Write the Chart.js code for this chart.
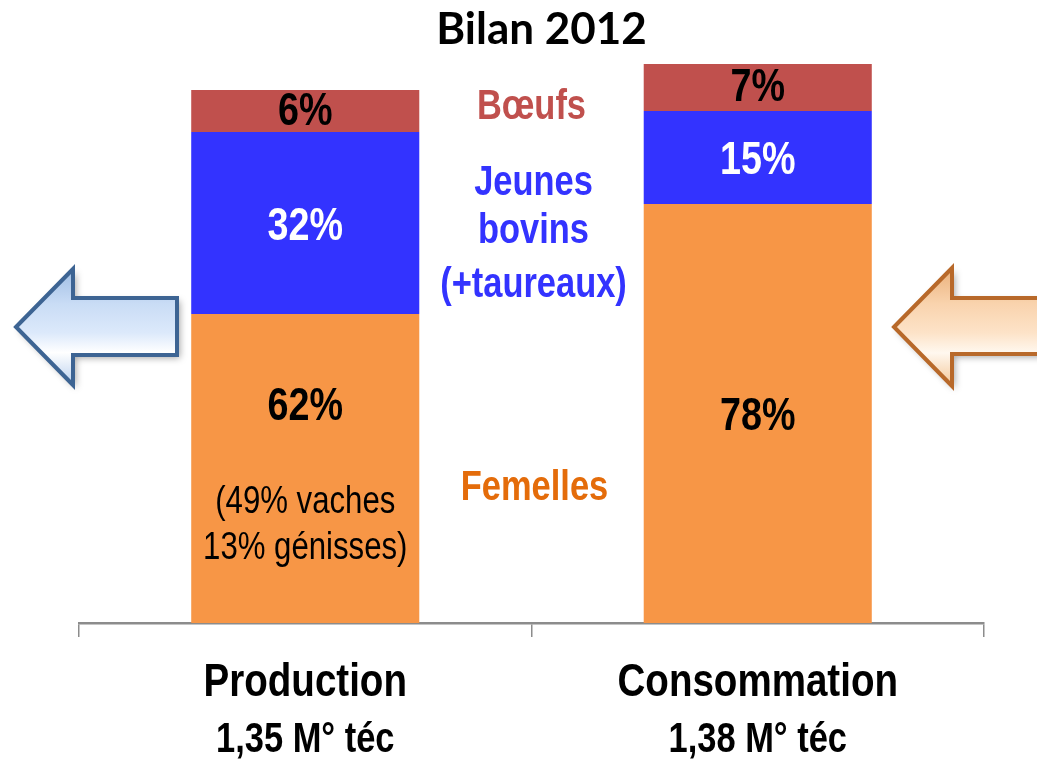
<!DOCTYPE html>
<html>
<head>
<meta charset="utf-8">
<script src="https://cdn.jsdelivr.net/npm/chart.js@4"></script>
<style>
  html, body { margin: 0; padding: 0; background: #ffffff; }
  #wrap { width: 1037px; height: 760px; position: relative; }
</style>
</head>
<body>
<div id="wrap"><canvas id="c"></canvas></div>
<script>
// ---- data (segment heights, arbitrary units) ----
const categories = ['Production', 'Consommation'];
const categoryVolumes = ['1,35 M° téc', '1,38 M° téc'];
const seriesNames = ['Femelles', 'Jeunes bovins (+taureaux)', 'Bœufs'];
const femelles = [309, 419];
const jeunesBovins = [182, 93];
const boeufs = [42, 47];
const femellesPct = ['62%', '78%'];
const jeunesBovinsPct = ['32%', '15%'];
const boeufsPct = ['6%', '7%'];
const femellesDetail = [['(49% vaches', '13% génisses)'], []];
const chartTitle = 'Bilan 2012';

const COL_F = '#f79646', COL_J = '#3333ff', COL_B = '#c0504d';

function narrowText(ctx, text, x, y, size, weight, color, sx) {
  ctx.save();
  ctx.font = weight + ' ' + size + 'px "Liberation Sans", Arial, sans-serif';
  ctx.fillStyle = color;
  ctx.textAlign = 'center';
  ctx.textBaseline = 'middle';
  ctx.translate(x, y);
  ctx.scale(sx || 0.82, 1);
  ctx.fillText(text, 0, 0);
  ctx.restore();
}

function arrow(ctx, pts, stroke, stops) {
  ctx.save();
  ctx.beginPath();
  pts.forEach((p, i) => i ? ctx.lineTo(p[0], p[1]) : ctx.moveTo(p[0], p[1]));
  ctx.closePath();
  const ys = pts.map(p => p[1]);
  const g = ctx.createLinearGradient(0, Math.min(...ys), 0, Math.max(...ys));
  stops.forEach(s => g.addColorStop(s[0], s[1]));
  ctx.shadowColor = 'rgba(0,0,0,0.35)';
  ctx.shadowBlur = 7;
  ctx.shadowOffsetX = 3;
  ctx.shadowOffsetY = 3;
  ctx.fillStyle = g;
  ctx.fill();
  ctx.shadowColor = 'transparent';
  ctx.lineWidth = 4;
  ctx.lineJoin = 'miter';
  ctx.strokeStyle = stroke;
  ctx.stroke();
  ctx.restore();
}

const decoPlugin = {
  id: 'deco',
  afterDraw(chart) {
    const ctx = chart.ctx;
    const area = chart.chartArea;
    const xs = chart.scales.x;
    const cx = (area.left + area.right) / 2;

    // title
    ctx.save();
    ctx.font = 'bold 44px Lato, "Liberation Sans", sans-serif';
    ctx.fillStyle = '#000';
    ctx.textAlign = 'center';
    ctx.textBaseline = 'middle';
    ctx.fillText(chartTitle, cx + 10, 30);
    ctx.restore();

    // segment labels
    const metaF = chart.getDatasetMeta(0), metaJ = chart.getDatasetMeta(1), metaB = chart.getDatasetMeta(2);
    for (let i = 0; i < categories.length; i++) {
      const f = metaF.data[i], j = metaJ.data[i], b = metaB.data[i];
      const fc = (f.y + f.base) / 2, jc = (j.y + j.base) / 2, bc = (b.y + b.base) / 2;
      narrowText(ctx, boeufsPct[i], b.x, bc + 1, 46, 'bold', '#000');
      narrowText(ctx, jeunesBovinsPct[i], j.x, jc + 4, 46, 'bold', '#fff');
      if (femellesDetail[i].length) {
        narrowText(ctx, femellesPct[i], f.x, fc - 61, 46, 'bold', '#000');
        femellesDetail[i].forEach((t, k) => narrowText(ctx, t, f.x, fc + 34 + k * 46, 38, 'normal', '#000'));
      } else {
        narrowText(ctx, femellesPct[i], f.x, fc + 4, 46, 'bold', '#000');
      }
      // category labels
      const px = xs.getPixelForValue(i);
      narrowText(ctx, categories[i], px, 683, 47, 'bold', '#000');
      narrowText(ctx, categoryVolumes[i], px, 740, 42, 'bold', '#000');
    }

    // series names between the bars
    narrowText(ctx, seriesNames[2], cx, 107, 42, 'bold', COL_B);
    const jb = ['Jeunes', 'bovins', '(+taureaux)'];
    [183, 231, 285].forEach((y, k) => narrowText(ctx, jb[k], cx + 2, y, 42, 'bold', '#3333ff'));
    narrowText(ctx, seriesNames[0], cx + 3, 488, 42, 'bold', '#e46c0a');

    // arrows
    arrow(ctx, [[16, 327], [73, 269], [73, 298], [177, 298], [177, 355], [73, 355], [73, 385]],
      '#3d6493', [[0, '#9fbde3'], [0.3, '#c9dcf5'], [0.55, '#dce9fb'], [0.72, '#ffffff'], [1, '#b9d0ee']]);
    arrow(ctx, [[894, 327], [952, 268], [952, 298], [1045, 298], [1045, 354], [952, 354], [952, 386]],
      '#b8692a', [[0, '#eab07a'], [0.3, '#f9d3ad'], [0.55, '#fde3c8'], [0.72, '#fff8ef'], [1, '#f3c697']]);
  }
};

new Chart(document.getElementById('c'), {
  type: 'bar',
  data: {
    labels: categories,
    datasets: [
      { label: seriesNames[0], data: femelles, backgroundColor: COL_F },
      { label: seriesNames[1], data: jeunesBovins, backgroundColor: COL_J },
      { label: seriesNames[2], data: boeufs, backgroundColor: COL_B }
    ]
  },
  options: {
    responsive: true,
    maintainAspectRatio: false,
    animation: false,
    layout: { padding: { left: 79, right: 53, top: 23, bottom: 123 } },
    datasets: { bar: { barPercentage: 0.504, categoryPercentage: 1.0, borderWidth: 0 } },
    plugins: { legend: { display: false }, tooltip: { enabled: false }, title: { display: false } },
    scales: {
      x: {
        stacked: true,
        ticks: { display: false },
        grid: { display: true, drawOnChartArea: false, drawTicks: true, tickLength: 14, color: '#8c8c8c', lineWidth: 1.5, offset: true },
        border: { display: true, color: '#8c8c8c', width: 2.5 }
      },
      y: { stacked: true, display: false, min: 0, max: 600 }
    }
  },
  plugins: [decoPlugin]
});
</script>
</body>
</html>
